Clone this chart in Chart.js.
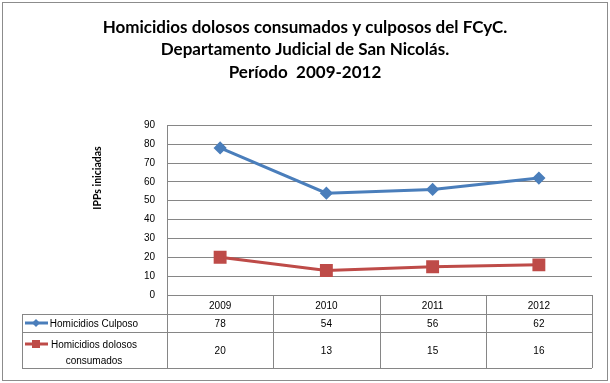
<!DOCTYPE html>
<html>
<head>
<meta charset="utf-8">
<script src="https://cdn.jsdelivr.net/npm/chart.js@4/dist/chart.umd.min.js"></script>
<style>
  html, body { margin: 0; padding: 0; background: #fff; }
  #wrap { position: relative; width: 610px; height: 383px; }
</style>
</head>
<body>
<div id="wrap"><canvas id="c" width="610" height="383"></canvas></div>
<script>
const years = ['2009', '2010', '2011', '2012'];
const culposo = [78, 54, 56, 62];
const dolosos = [20, 13, 15, 16];
const seriesNames = ['Homicidios Culposo', ['Homicidios dolosos', 'consumados']];
const titleLines = ['Homicidios dolosos consumados y culposos del FCyC.', 'Departamento Judicial de San Nicolás.', 'Período  2009-2012'];
const yTitle = 'IPPs iniciadas';

const BLUE = '#4A7EBB';
const RED = '#BE4B48';
const GRID = '#868686';
const FONT = 'Liberation Sans, Arial, sans-serif';

const tablePlugin = {
  id: 'dataTable',
  afterDraw(chart) {
    const ctx = chart.ctx;
    const ca = chart.chartArea;
    const x = chart.scales.x;
    const left = 22;
    const rowTops = [ca.bottom, ca.bottom + 19, ca.bottom + 37, ca.bottom + 73];
    ctx.save();
    // outer border
    ctx.strokeStyle = '#8c8c8c';
    ctx.lineWidth = 1;
    ctx.strokeRect(2.5, 2.5, 605, 378);

    ctx.strokeStyle = GRID;
    ctx.beginPath();
    for (let i = 1; i < rowTops.length; i++) {
      const y = Math.round(rowTops[i]) + 0.5;
      ctx.moveTo(left, y); ctx.lineTo(ca.right, y);
    }
    const n = years.length;
    const step = (ca.right - ca.left) / n;
    for (let i = 0; i <= n; i++) {
      const xx = Math.round(ca.left + i * step) + 0.5;
      ctx.moveTo(xx, ca.bottom); ctx.lineTo(xx, rowTops[3]);
    }
    const lx = left + 0.5;
    ctx.moveTo(lx, rowTops[1]); ctx.lineTo(lx, rowTops[3]);
    ctx.stroke();

    ctx.fillStyle = '#000';
    ctx.font = '10px ' + FONT;
    ctx.textAlign = 'center';
    ctx.textBaseline = 'middle';
    const rowCenters = [(rowTops[1] + rowTops[2]) / 2, (rowTops[2] + rowTops[3]) / 2];
    [culposo, dolosos].forEach((arr, r) => {
      arr.forEach((v, i) => {
        ctx.fillText(String(v), x.getPixelForValue(i), rowCenters[r] + 1);
      });
    });

    const textX = 94;
    const keys = [
      { color: BLUE, shape: 'diamond', y: rowCenters[0] },
      { color: RED, shape: 'square', y: rowTops[2] + 12 }
    ];
    keys.forEach((k, r) => {
      ctx.strokeStyle = k.color;
      ctx.lineWidth = 3;
      ctx.beginPath();
      ctx.moveTo(25, k.y); ctx.lineTo(48, k.y);
      ctx.stroke();
      ctx.fillStyle = k.color;
      ctx.beginPath();
      if (k.shape === 'diamond') {
        ctx.moveTo(36, k.y - 4); ctx.lineTo(40, k.y); ctx.lineTo(36, k.y + 4); ctx.lineTo(32, k.y);
        ctx.closePath();
      } else {
        ctx.rect(32, k.y - 4, 8, 8);
      }
      ctx.fill();
      ctx.fillStyle = '#000';
      const name = seriesNames[r];
      if (Array.isArray(name)) {
        name.forEach((ln, j) => ctx.fillText(ln, textX, k.y + 1 + j * 16));
      } else {
        ctx.fillText(name, textX, k.y + 1);
      }
    });

    ctx.translate(98, 178);
    ctx.rotate(-Math.PI / 2);
    ctx.font = 'bold 10.5px Lato, sans-serif';
    ctx.fillStyle = '#000';
    ctx.fillText(yTitle, 0, 0);
    ctx.restore();
  }
};

new Chart(document.getElementById('c'), {
  type: 'line',
  data: {
    labels: years,
    datasets: [
      {
        label: 'Homicidios Culposo',
        data: culposo,
        borderColor: BLUE,
        backgroundColor: BLUE,
        borderWidth: 3,
        pointStyle: 'rectRot',
        pointRadius: 4.5,
        pointHoverRadius: 4.5,
        tension: 0
      },
      {
        label: 'Homicidios dolosos consumados',
        data: dolosos,
        borderColor: RED,
        backgroundColor: RED,
        borderWidth: 3,
        pointStyle: 'rect',
        pointRadius: 7,
        pointHoverRadius: 7,
        tension: 0
      }
    ]
  },
  options: {
    responsive: false,
    animation: false,
    events: [],
    layout: { padding: { left: 18, right: 18, top: 0, bottom: 15 } },
    plugins: {
      legend: { display: false },
      tooltip: { enabled: false },
      title: {
        display: true,
        text: titleLines,
        color: '#000',
        font: { family: 'Lato, Open Sans, sans-serif', size: 17, weight: 'bold', lineHeight: 1.32 },
        padding: { top: 16, bottom: 42 }
      }
    },
    scales: {
      x: {
        type: 'category',
        offset: true,
        grid: { display: false, drawTicks: false },
        border: { display: false },
        ticks: { color: '#000', font: { family: FONT, size: 10 }, padding: 5, maxRotation: 0 },
        afterFit(s) { s.height = 73; }
      },
      y: {
        min: 0,
        max: 90,
        ticks: { stepSize: 10, color: '#000', font: { family: FONT, size: 10 }, padding: 12 },
        grid: { color: GRID, drawTicks: false },
        border: { display: true, color: GRID },
        afterFit(s) { s.width = 149; }
      }
    }
  },
  plugins: [tablePlugin]
});
</script>
</body>
</html>
